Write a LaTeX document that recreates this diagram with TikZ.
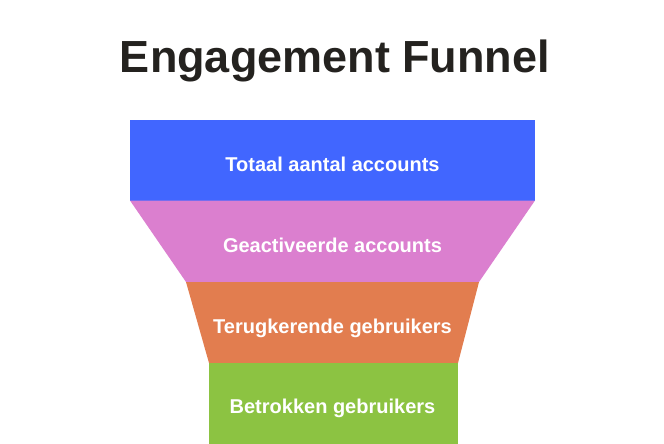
\documentclass[tikz,border=0pt]{standalone}
\usepackage{fontspec}
\setmainfont{Liberation Sans}
\usepackage{xcolor}
\definecolor{royal-blue}{HTML}{4166FF}
\definecolor{orchid}{HTML}{DB7FCF}
\definecolor{burnt-sienna}{HTML}{E27D4F}
\definecolor{atlantis}{HTML}{8CC342}
\definecolor{ink}{HTML}{24221F}
\usetikzlibrary{calc,positioning}
\tikzset{
    x=1pt,y=-1pt,
    stage/.style ={text=white, font=\bfseries\fontsize{20}{24}\selectfont, inner sep=0pt, text height=14pt, text depth=0pt},
    heading/.style ={text=ink, font=\bfseries\fontsize{45}{54}\selectfont, inner sep=0pt, text height=32pt, text depth=0pt}
}

\begin{document}
\begin{tikzpicture}
      \useasboundingbox (0,0) rectangle (664,444);

      \node[heading] (title) at (335, 56.5) {Engagement Funnel};

      % funnel bands
      \fill[royal-blue] (130,120) -- (535,120) -- (535,200.5) -- (130,200.5) -- cycle;
      \fill[orchid] (130,200.5) -- (535,200.5) -- (479,282) -- (186,282) -- cycle;
      \fill[burnt-sienna] (186,282) -- (479,282) -- (458,363) -- (209,363) -- cycle;
      \fill[atlantis] (209,363) -- (458,363) -- (458,444) -- (209,444) -- cycle;

      \node[stage] (total) at (332.5, 164) {Totaal aantal accounts};
      \node[stage] (activated) at (332.5, 245) {Geactiveerde accounts};
      \node[stage] (returning) at (332.5, 326) {Terugkerende gebruikers};
      \node[stage] (engaged) at (332.5, 406.5) {Betrokken gebruikers};
    \end{tikzpicture}
\end{document}
